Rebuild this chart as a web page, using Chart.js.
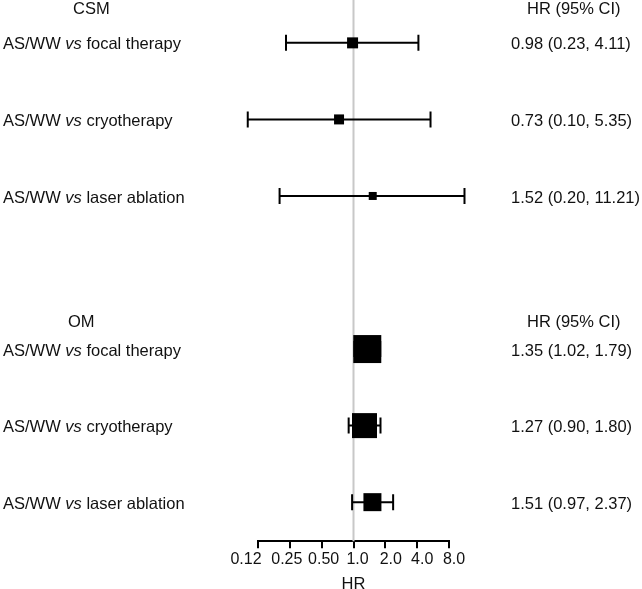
<!DOCTYPE html>
<html>
<head>
<meta charset="utf-8">
<script src="https://cdn.jsdelivr.net/npm/chart.js@4/dist/chart.umd.min.js"></script>
<style>
  html, body { margin: 0; padding: 0; background: #fff; }
  #wrap { width: 642px; height: 589px; position: relative; }
</style>
</head>
<body>
<div id="wrap"><canvas id="c"></canvas></div>
<script>
// ---------- data ----------
const groups = ['CSM', 'OM'];
const comparisonPrefix = 'AS/WW';
const comparisonVs = 'vs';
const treatments = ['focal therapy', 'cryotherapy', 'laser ablation'];
const csmHR = [0.98, 0.73, 1.52];
const csmLow = [0.23, 0.10, 0.20];
const csmHigh = [4.11, 5.35, 11.21];
const omHR = [1.35, 1.27, 1.51];
const omLow = [1.02, 0.90, 0.97];
const omHigh = [1.79, 1.80, 2.37];
const tickValues = [0.125, 0.25, 0.5, 1, 2, 4, 8];
const tickLabels = ['0.12', '0.25', '0.50', '1.0', '2.0', '4.0', '8.0'];
const columnHeader = 'HR (95% CI)';
const axisTitle = 'HR';

// ---------- style ----------
const boxSides = [[11, 10, 8], [28, 25, 18]];   // marker side length (px) per group/row
const tickLabelNudge = [-12, -3, 2, 4, 5.5, 5, 5]; // horizontal label shift (px), as in the original
const FONT = '"Liberation Sans", Arial, Helvetica, sans-serif';
const TEXT = '#111';

// build rows: group g, row i -> y index
const hrs = [csmHR, omHR], lows = [csmLow, omLow], highs = [csmHigh, omHigh];
const rows = [];
groups.forEach((g, gi) => {
  treatments.forEach((t, i) => {
    rows.push({
      y: gi * 4 + i,
      hr: hrs[gi][i], lo: lows[gi][i], hi: highs[gi][i],
      treatment: t, side: boxSides[gi][i]
    });
  });
});
const headerRows = [-0.46, 3.62];
const headerX = [73, 68];

function fmt(v) { return v.toFixed(2); }

Chart.defaults.font.family = FONT;
Chart.defaults.font.size = 16;
Chart.defaults.color = TEXT;

const forestPlugin = {
  id: 'forest',
  beforeDatasetsDraw(chart) {
    const {ctx, chartArea, scales: {x, y}} = chart;
    ctx.save();
    // reference line at HR = 1
    const x1 = x.getPixelForValue(1);
    ctx.strokeStyle = '#c8c8c8';
    ctx.lineWidth = 2;
    ctx.beginPath();
    ctx.moveTo(x1, chartArea.top);
    ctx.lineTo(x1, chartArea.bottom);
    ctx.stroke();
    // CI whiskers
    ctx.strokeStyle = '#000';
    ctx.lineWidth = 2;
    rows.forEach(r => {
      const py = y.getPixelForValue(r.y);
      const xl = x.getPixelForValue(r.lo), xh = x.getPixelForValue(r.hi);
      ctx.beginPath();
      ctx.moveTo(xl, py); ctx.lineTo(xh, py);
      ctx.moveTo(xl, py - 8); ctx.lineTo(xl, py + 8);
      ctx.moveTo(xh, py - 8); ctx.lineTo(xh, py + 8);
      ctx.stroke();
    });
    ctx.restore();
  },
  afterDraw(chart) {
    const {ctx, chartArea, scales: {x, y}} = chart;
    ctx.save();
    ctx.fillStyle = TEXT;
    ctx.textBaseline = 'middle';
    const normal = '16.5px ' + FONT, italic = 'italic 16.5px ' + FONT;
    // headers
    groups.forEach((g, gi) => {
      const py = y.getPixelForValue(headerRows[gi]) + 2;
      ctx.font = normal;
      ctx.textAlign = 'left';
      ctx.fillText(g, headerX[gi], py);
      ctx.fillText(columnHeader, 527, py);
    });
    rows.forEach(r => {
      const py = y.getPixelForValue(r.y) + 2;
      let px = 3;
      ctx.textAlign = 'left';
      ctx.font = normal;
      const p1 = comparisonPrefix + ' ';
      ctx.fillText(p1, px, py); px += ctx.measureText(p1).width;
      ctx.font = italic;
      ctx.fillText(comparisonVs, px, py); px += ctx.measureText(comparisonVs).width;
      ctx.font = normal;
      ctx.fillText(' ' + r.treatment, px, py);
      ctx.fillText(fmt(r.hr) + ' (' + fmt(r.lo) + ', ' + fmt(r.hi) + ')', 511, py);
    });
    // x tick labels
    ctx.font = '16px ' + FONT;
    ctx.textAlign = 'center';
    tickValues.forEach((v, i) => {
      ctx.fillText(tickLabels[i], x.getPixelForValue(v) + tickLabelNudge[i], chartArea.bottom + 18);
    });
    ctx.restore();
  }
};

new Chart(document.getElementById('c'), {
  type: 'scatter',
  data: {
    datasets: [{
      data: rows.map(r => ({x: r.hr, y: r.y})),
      pointStyle: 'rect',
      pointRadius: rows.map(r => r.side / Math.SQRT2),
      pointHoverRadius: rows.map(r => r.side / Math.SQRT2),
      backgroundColor: '#000',
      borderWidth: 0,
      clip: false
    }]
  },
  options: {
    responsive: true,
    maintainAspectRatio: false,
    animation: false,
    events: [],
    layout: { autoPadding: false, padding: { left: 258, right: 193, top: 0, bottom: -5 } },
    plugins: { legend: { display: false }, tooltip: { enabled: false } },
    scales: {
      x: {
        type: 'logarithmic',
        min: 0.125, max: 8,
        afterBuildTicks(scale) { scale.ticks = tickValues.map(v => ({value: v})); },
        ticks: { display: false, autoSkip: false, maxRotation: 0 },
        grid: { display: true, drawOnChartArea: false, drawTicks: true, tickLength: 7, color: '#000', lineWidth: 2 },
        border: { display: true, color: '#000', width: 2 },
        title: { display: true, text: axisTitle, color: TEXT, font: { size: 16.5 }, padding: { top: 26, bottom: 0 } }
      },
      y: {
        type: 'linear', display: false, reverse: true,
        min: -0.56, max: 6.51
      }
    }
  },
  plugins: [forestPlugin]
});
</script>
</body>
</html>
